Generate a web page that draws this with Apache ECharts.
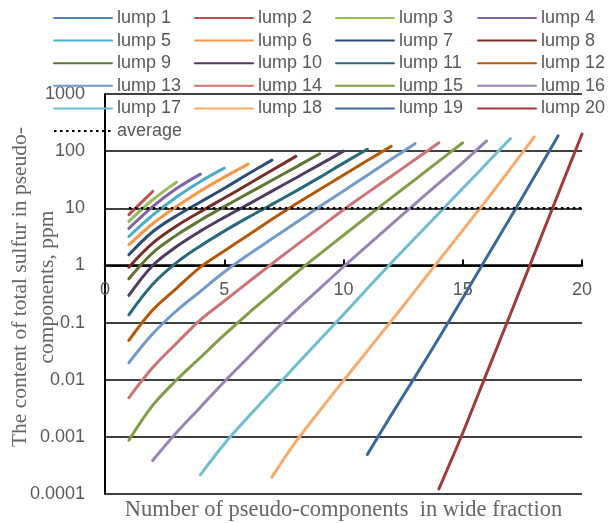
<!DOCTYPE html>
<html>
<head>
<meta charset="utf-8">
<script src="https://cdn.jsdelivr.net/npm/echarts@6/dist/echarts.min.js"></script>
<style>
html,body{margin:0;padding:0;background:#ffffff;}
#chart{width:611px;height:523px;}
</style>
</head>
<body>
<div id="chart"></div>
<script>
// ---- data ----
const lumpNames = ['lump 1','lump 2','lump 3','lump 4','lump 5','lump 6','lump 7','lump 8','lump 9','lump 10',
  'lump 11','lump 12','lump 13','lump 14','lump 15','lump 16','lump 17','lump 18','lump 19','lump 20'];
// number of pseudo-components at which each lump's curve begins
const lumpStart = [1,1,1,1,1,1,1,1,1,1,1,1,1,1,1,2,4,7,11,14];
// total sulfur content, ppm, at consecutive numbers of pseudo-components
const lump1  = [10.5];
const lump2  = [7.76, 19.7];
const lump3  = [5.89, 14.1, 28.7];
const lump4  = [4.44, 10.7, 22.1, 39.6];
const lump5  = [3.21, 7.59, 15.8, 29.5, 50.5];
const lump6  = [2.30, 5.37, 10.7, 20.0, 35.1, 59.3];
const lump7  = [1.54, 3.89, 7.41, 12.9, 22.4, 39.8, 69.7];
const lump8  = [0.933, 2.45, 4.90, 8.71, 15.1, 26.3, 46.2, 80.9];
const lump9  = [0.585, 1.66, 3.39, 6.17, 10.7, 18.2, 30.9, 52.5, 90.2];
const lump10 = [0.299, 1.00, 2.14, 3.98, 6.92, 11.7, 20.0, 33.9, 58.2, 100];
const lump11 = [0.137, 0.468, 1.12, 2.19, 3.98, 6.92, 11.7, 20.0, 34.7, 61.7, 108];
const lump12 = [0.0487, 0.166, 0.398, 0.933, 1.79, 3.39, 6.41, 11.9, 21.3, 38.2, 68.4, 122];
const lump13 = [0.0198, 0.0635, 0.161, 0.352, 0.767, 1.53, 2.92, 5.58, 10.7, 20.1, 38.0, 71.8, 135];
const lump14 = [0.00483, 0.0163, 0.0435, 0.112, 0.238, 0.507, 1.07, 2.22, 4.57, 9.44, 18.6, 36.4, 71.4, 140];
const lump15 = [0.00087, 0.00355, 0.00989, 0.0245, 0.0607, 0.144, 0.324, 0.730, 1.58, 3.37, 7.18, 15.2, 31.8, 67.0, 140];
const lump16 = [0.000386, 0.00119, 0.00331, 0.0092, 0.0244, 0.0646, 0.163, 0.393, 0.948, 2.22, 5.16, 12.0, 27.5, 63.1, 151];
const lump17 = [0.000217, 0.000752, 0.00222, 0.00627, 0.0177, 0.0495, 0.139, 0.394, 1.10, 3.01, 8.18, 22.3, 60.7, 166];
const lump18 = [0.000197, 0.000822, 0.00285, 0.00966, 0.0320, 0.106, 0.359, 1.22, 4.12, 14.0, 49.5, 178];
const lump19 = [0.00049, 0.0024, 0.0112, 0.0537, 0.269, 1.38, 6.92, 35.5, 186];
const lump20 = [0.000123, 0.00117, 0.0129, 0.141, 1.58, 17.8, 200];
const averageStart = 1;
const averageValues = [10,10,10,10,10,10,10,10,10,10,10,10,10,10,10,10,10,10,10,10];
const yTickLabels = ['0.0001','0.001','0.01','0.1','1','10','100','1000'];
const xTitle = 'Number of pseudo-components  in wide fraction';
const yTitle = 'The content of total sulfur in pseudo-\ncomponents, ppm';

const lumpValues = [lump1,lump2,lump3,lump4,lump5,lump6,lump7,lump8,lump9,lump10,
  lump11,lump12,lump13,lump14,lump15,lump16,lump17,lump18,lump19,lump20];

// ---- styles ----
const lumpColors = ['#4F81BD','#C0504D','#9BBB59','#8064A2','#4BACC6','#F79646',
  '#2C4D75','#772C2A','#5F7530','#4D3B62','#276A7C','#B65708',
  '#729ACA','#CD7371','#7F9E45','#9983B5','#6FBDD1','#F9AB6B',
  '#3B679C','#9F3B38'];
const sansFont = 'Liberation Sans, Arial, sans-serif';
const serifFont = 'Liberation Serif, Times New Roman, serif';

const series = lumpValues.map((vals, i) => ({
  type: 'line',
  name: lumpNames[i],
  data: vals.map((v, j) => [lumpStart[i] + j, v]),
  symbol: 'none',
  smooth: 0.35,
  lineStyle: {width: 3, color: lumpColors[i], cap: 'round', join: 'round'},
  itemStyle: {color: lumpColors[i]},
  z: 3
}));
series.push({
  type: 'line',
  name: 'average',
  data: averageValues.map((v, j) => [averageStart + j, v]),
  symbol: 'none',
  lineStyle: {width: 2.5, color: '#000000', type: [2.5, 3.5], cap: 'butt'},
  itemStyle: {color: '#000000'},
  z: 4
});

const legendCols = [
  ['lump 1','lump 5','lump 9','lump 13','lump 17','average'],
  ['lump 2','lump 6','lump 10','lump 14','lump 18'],
  ['lump 3','lump 7','lump 11','lump 15','lump 19'],
  ['lump 4','lump 8','lump 12','lump 16','lump 20']
];
const legendLeft = [53, 194, 335, 477];

const legends = legendCols.map((names, i) => ({
  data: names,
  orient: 'vertical',
  left: legendLeft[i],
  top: 7,
  itemWidth: 58,
  itemHeight: 14,
  itemGap: 0.6,
  selectedMode: false,
  padding: 0,
  itemStyle: {opacity: 0, borderWidth: 0},
  textStyle: {fontSize: 18, color: '#595959', fontFamily: sansFont, lineHeight: 22}
}));

const option = {
  animation: false,
  backgroundColor: '#ffffff',
  legend: legends,
  grid: {left: 105, right: 29, top: 94, bottom: 29, containLabel: false, outerBoundsMode: 'none'},
  xAxis: [{
    type: 'value', min: 0, max: 20, interval: 5,
    position: 'bottom', offset: -228.6,
    axisLine: {show: true, onZero: false, lineStyle: {color: '#000000', width: 2.5}},
    axisTick: {show: true, inside: true, length: 6, lineStyle: {color: '#000000', width: 2}},
    axisLabel: {fontSize: 18, color: '#595959', fontFamily: sansFont, margin: 16},
    splitLine: {show: false}
  }, {
    type: 'value', min: 0, max: 20, interval: 5,
    position: 'bottom',
    axisLine: {show: false, onZero: false},
    axisTick: {show: false},
    axisLabel: {show: false},
    splitLine: {show: false},
    name: xTitle, nameLocation: 'middle', nameGap: 5,
    nameTextStyle: {fontFamily: serifFont, fontSize: 22.5, color: '#666666'}
  }],
  yAxis: {
    type: 'log', logBase: 10, min: 0.0001, max: 1000, splitNumber: 7,
    axisLine: {show: true, onZero: false, lineStyle: {color: '#000000', width: 2}},
    axisTick: {show: false},
    axisLabel: {
      fontSize: 18, color: '#595959', fontFamily: sansFont, margin: 20,
      formatter: v => yTickLabels[Math.round(Math.log10(v)) + 4]
    },
    splitLine: {show: true, lineStyle: {color: '#000000', width: 1.5}},
    name: yTitle, nameLocation: 'middle', nameRotate: 90, nameGap: 44, nameMoveOverlap: false,
    nameTextStyle: {fontFamily: serifFont, fontSize: 21.5, color: '#666666', lineHeight: 27, align: 'center',
      padding: [0, 0, 0, 14]}
  },
  series: series
};

const chart = echarts.init(document.getElementById('chart'), null, {renderer: 'canvas'});
chart.setOption(option);
</script>
</body>
</html>
